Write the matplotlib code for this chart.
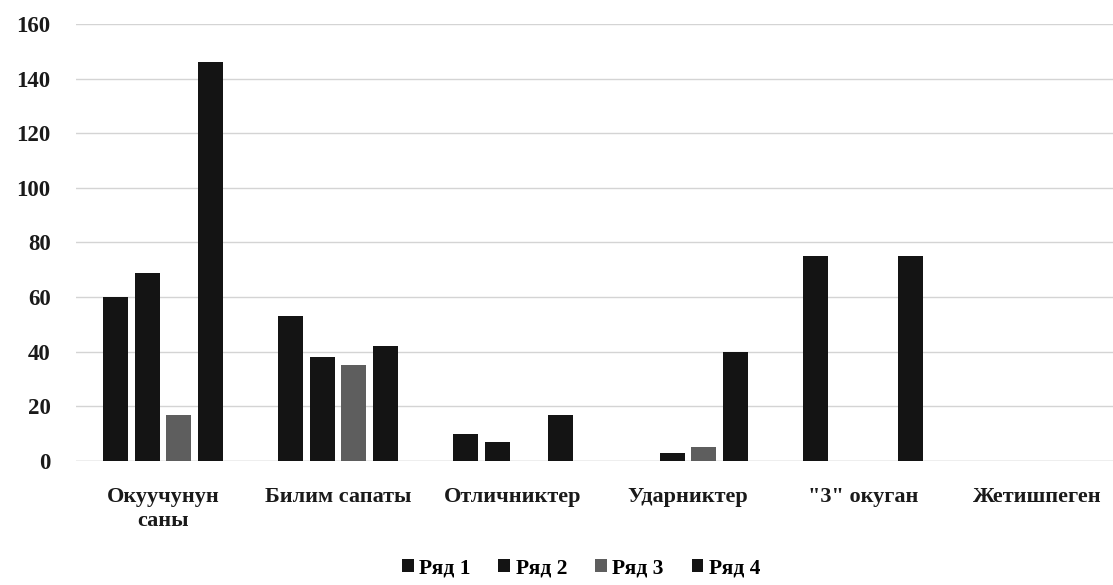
import matplotlib
matplotlib.use("Agg")
import matplotlib.pyplot as plt
import numpy as np

categories = ["Окуучунун\nсаны", "Билим сапаты", "Отличниктер", "Ударниктер",
              "\"3\" окуган", "Жетишпеген"]
series_names = ["Ряд 1", "Ряд 2", "Ряд 3", "Ряд 4"]
row1 = [60, 53, 10, 0, 75, 0]
row2 = [69, 38, 7, 3, 0, 0]
row3 = [17, 35, 0, 5, 0, 0]
row4 = [146, 42, 17, 40, 75, 0]
colors = ["#141414", "#141414", "#5e5e5e", "#141414"]

plt.rcParams.update({"font.family": ["Liberation Serif", "DejaVu Serif"],
                     "font.weight": "bold"})

fig = plt.figure(figsize=(11.13, 5.85), dpi=100)
ax = fig.add_axes([0.068, 0.212, 0.943, 0.747])

x = np.arange(len(categories))
width = 0.143
step = 0.18
for i, (vals, name, c) in enumerate(zip([row1, row2, row3, row4], series_names, colors)):
    ax.bar(x + (i - 1.5) * step, vals, width, color=c, label=name, zorder=3)

ax.set_xlim(-0.5, len(categories) - 0.5)
ax.set_ylim(0, 160)
ax.set_yticks(range(0, 161, 20))
ax.grid(axis="y", color="#d4d4d4", lw=1, zorder=0)
for s in ["top", "right", "left", "bottom"]:
    ax.spines[s].set_visible(False)
ax.axhline(0, color="#cfcfcf", lw=1, zorder=1)
ax.tick_params(axis="both", length=0, colors="#1a1a1a")
ax.tick_params(axis="y", pad=18, labelsize=16.5)
ax.tick_params(axis="x", pad=19)
ax.set_xticks(x)
ax.set_xticklabels(categories, fontsize=16, linespacing=1.25, va="top")

fig.legend(loc="lower center", bbox_to_anchor=(0.522, -0.022), ncol=4, frameon=False,
           fontsize=15.5, handlelength=0.55, handleheight=0.55, handletextpad=0.25,
           columnspacing=1.3)

fig.savefig("out.png", dpi=100, facecolor="white")
